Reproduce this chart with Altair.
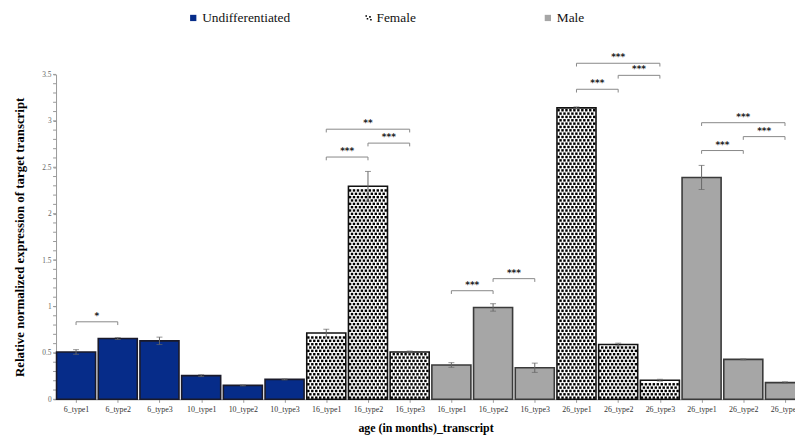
import altair as alt
import pandas as pd
import numpy as np

# ---------------- data ----------------
labels = ["6_type1", "6_type2", "6_type3", "10_type1", "10_type2", "10_type3",
          "16_type1", "16_type2", "16_type3", "16_type1", "16_type2", "16_type3",
          "26_type1", "26_type2", "26_type3", "26_type1", "26_type2", "26_type3"]
groups = (["Undifferentiated"] * 6 + ["Female"] * 3 + ["Male"] * 3
          + ["Female"] * 3 + ["Male"] * 3)
values = [0.51, 0.655, 0.63, 0.255, 0.15, 0.215,
          0.715, 2.295, 0.51, 0.37, 0.99, 0.34,
          3.14, 0.59, 0.206, 2.39, 0.43, 0.18]
errors = [0.025, 0.01, 0.04, 0.01, 0.005, 0.005,
          0.04, 0.16, 0.01, 0.025, 0.04, 0.05,
          0.01, 0.015, 0.01, 0.13, 0.005, 0.008]

sig_from = [0, 6, 7, 6, 9, 10, 12, 13, 12, 15, 16, 15]
sig_to = [1, 7, 8, 8, 10, 11, 13, 14, 14, 16, 17, 17]
sig_level = [0.835, 2.61, 2.76, 2.91, 1.17, 1.30, 3.34, 3.49, 3.62, 2.68, 2.83, 2.98]
sig_text = ["*", "***", "***", "**", "***", "***", "***", "***", "***", "***", "***", "***"]

y_major = [0, 0.5, 1, 1.5, 2, 2.5, 3, 3.5]
y_minor = [round(0.1 * i, 1) for i in range(36)]

legend_names = ["Undifferentiated", "Female", "Male"]
fill_colors = ["#062C89", "#FFFFFF", "#A6A6A6"]
stroke_colors = ["#1a1a2a", "#111111", "#3a3a3a"]

FONT = "Liberation Serif"

df = pd.DataFrame({"idx": list(range(len(labels))), "label": labels,
                   "group": groups, "value": values, "err": errors})
sig = pd.DataFrame({"x1": sig_from, "x2": sig_to, "lvl": sig_level, "txt": sig_text})
minor_df = pd.DataFrame({"yv": y_minor})

# dotted texture for female bars (derived from bar heights)
dx, dy = 0.095, 0.036
dots = []
for i, g, v in zip(range(len(values)), groups, values):
    if g != "Female":
        continue
    nrows = int(v / dy)
    for r in range(nrows):
        yy = (r + 0.5) * dy
        off = 0.5 * dx if r % 2 else 0.0
        xx = -0.43 + off
        while xx <= 0.44:
            dots.append({"xd": i + xx, "yd": yy})
            xx += dx
dots_df = pd.DataFrame(dots)

XD = [-0.48, 17.24]
YD = [0, 3.5]
xs = alt.Scale(domain=XD, nice=False, zero=False)
ys = alt.Scale(domain=YD, nice=False)
color_scale = alt.Scale(domain=legend_names, range=fill_colors)
stroke_scale = alt.Scale(domain=legend_names, range=stroke_colors)

label_arr = "[" + ",".join("'" + s + "'" for s in labels) + "]"

x_axis = alt.Axis(
    values=list(range(len(labels))), labelExpr=label_arr + "[datum.value]",
    title="age (in months)_transcript", titleFont=FONT, titleFontSize=12,
    titleFontWeight="bold", titleColor="#000", titlePadding=9,
    labelFont=FONT, labelFontSize=8, labelColor="#333", tickSize=3,
    tickColor="#999", domainColor="#999", grid=False, labelPadding=3,
    labelOverlap=False)
y_axis = alt.Axis(
    values=y_major, format="~g",
    title="Relative normalized expression of target transcript",
    titleFont=FONT, titleFontSize=13, titleFontWeight="bold", titleColor="#000",
    titlePadding=15, labelFont=FONT, labelFontSize=7.5, labelColor="#666",
    tickSize=3, tickColor="#999", domainColor="#999", grid=False, labelPadding=2,
    labelOverlap=False)

base = alt.Chart(df)

bars = base.mark_rect(strokeWidth=0).transform_calculate(
    xa="datum.idx - 0.468", xb="datum.idx + 0.468"
).encode(
    x=alt.X("xa:Q", scale=xs, axis=x_axis),
    x2="xb:Q",
    y=alt.Y("value:Q", scale=ys, axis=y_axis),
    y2=alt.datum(0),
    fill=alt.Color("group:N", scale=color_scale, legend=None),
)

minor = alt.Chart(minor_df).mark_rule(color="#999", strokeWidth=1).encode(
    y=alt.Y("yv:Q", scale=ys), x=alt.value(-3), x2=alt.value(0))

dot_layer = alt.Chart(dots_df).mark_square(size=6, color="#000", opacity=1).encode(
    x=alt.X("xd:Q", scale=xs), y=alt.Y("yd:Q", scale=ys))

outline = base.mark_rect(fillOpacity=0, strokeWidth=1.6).transform_calculate(
    xa="datum.idx - 0.468", xb="datum.idx + 0.468"
).encode(
    x=alt.X("xa:Q", scale=xs), x2="xb:Q",
    y=alt.Y("value:Q", scale=ys), y2=alt.datum(0),
    stroke=alt.Color("group:N", scale=stroke_scale, legend=None),
)

err_rule = base.mark_rule(color="#666", strokeWidth=1).transform_calculate(
    lo="datum.value - datum.err", hi="datum.value + datum.err"
).encode(x=alt.X("idx:Q", scale=xs), y=alt.Y("lo:Q", scale=ys), y2="hi:Q")
err_cap_hi = base.mark_tick(color="#666", thickness=1, size=6, orient="horizontal").transform_calculate(
    hi="datum.value + datum.err"
).encode(x=alt.X("idx:Q", scale=xs), y=alt.Y("hi:Q", scale=ys))
err_cap_lo = base.mark_tick(color="#666", thickness=1, size=6, orient="horizontal").transform_calculate(
    lo="datum.value - datum.err"
).encode(x=alt.X("idx:Q", scale=xs), y=alt.Y("lo:Q", scale=ys))

sbase = alt.Chart(sig)
br_h = sbase.mark_rule(color="#888", strokeWidth=1).encode(
    x=alt.X("x1:Q", scale=xs), x2="x2:Q", y=alt.Y("lvl:Q", scale=ys))
br_l = sbase.mark_rule(color="#888", strokeWidth=1).transform_calculate(
    low="datum.lvl - 0.035").encode(
    x=alt.X("x1:Q", scale=xs), y=alt.Y("lvl:Q", scale=ys), y2="low:Q")
br_r = sbase.mark_rule(color="#888", strokeWidth=1).transform_calculate(
    low="datum.lvl - 0.035").encode(
    x=alt.X("x2:Q", scale=xs), y=alt.Y("lvl:Q", scale=ys), y2="low:Q")
br_t = sbase.mark_text(font="DejaVu Sans", fontSize=9, fontWeight="bold", dy=-6,
                       color="#222").transform_calculate(
    xm="(datum.x1 + datum.x2) / 2").encode(
    x=alt.X("xm:Q", scale=xs), y=alt.Y("lvl:Q", scale=ys), text="txt:N")

# ---------------- manual legend ----------------
one = alt.Data(values=[{"a": 1}])
lg_y = -57
leg = []
leg.append(alt.Chart(one).mark_square(size=40, color=fill_colors[0], opacity=1).encode(
    x=alt.value(138.5), y=alt.value(lg_y)))
leg.append(alt.Chart(one).mark_point(
    shape="M-1,-0.9h0.5v0.5h-0.5z M0.2,-0.6h0.5v0.5h-0.5z M-0.6,0h0.5v0.5h-0.5z M0.5,0.3h0.5v0.5h-0.5z",
    size=40, filled=True, color="#000", opacity=1).encode(
    x=alt.value(315.5), y=alt.value(lg_y)))
leg.append(alt.Chart(one).mark_square(size=40, color=fill_colors[2], opacity=1).encode(
    x=alt.value(496.5), y=alt.value(lg_y)))
for name, xp in zip(legend_names, [147.5, 323.5, 505.5]):
    leg.append(alt.Chart(one).mark_text(text=name, font=FONT, fontSize=13.5, align="left",
                                         baseline="middle", color="#111").encode(
        x=alt.value(xp), y=alt.value(lg_y)))

chart = alt.layer(bars, minor, dot_layer, outline, err_rule, err_cap_hi, err_cap_lo,
                  br_h, br_l, br_r, br_t, *leg).properties(
    width=746, height=328,
    autosize=alt.AutoSizeParams(type="none"),
    padding={"left": 48.5, "top": 65, "right": 0, "bottom": 38},
).configure(background="white", font=FONT
).configure_view(stroke=None
).configure_axis(labelOverlap=False)

chart.save("out.html", embed_options={"renderer": "svg", "actions": False})
